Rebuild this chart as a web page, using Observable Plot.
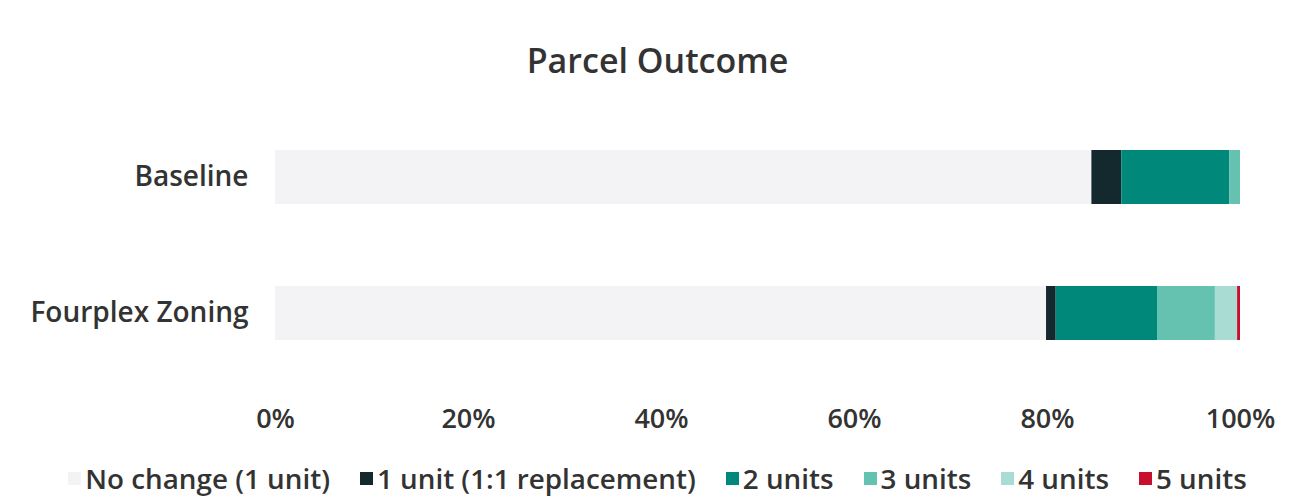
<!DOCTYPE html>
<html>
<head>
<meta charset="utf-8">
<script src="https://cdn.jsdelivr.net/npm/d3@7"></script>
<script src="https://cdn.jsdelivr.net/npm/@observablehq/plot@0.6"></script>
<style>
  html, body { margin: 0; padding: 0; background: #fff; }
  body { width: 1295px; height: 497px; overflow: hidden; font-family: "Open Sans", sans-serif; color: #333; }
  #title { height: 100px; line-height: 120px; text-align: center; font-size: 34px; font-weight: 600; color: #333; padding-left: 20px; }
  #legend { display: flex; justify-content: center; align-items: center; gap: 30px; font-size: 27.8px; font-weight: 600; color: #333; margin-top: 14px; margin-left: 20px; }
  #legend .item { display: flex; align-items: center; gap: 4px; }
  #legend .sw { width: 13px; height: 13px; display: inline-block; }
</style>
</head>
<body>
<div id="title">Parcel Outcome</div>
<div id="chart"></div>
<div id="legend"></div>
<script>
const categories = ["Baseline", "Fourplex Zoning"];
const outcomes = ["No change (1 unit)", "1 unit (1:1 replacement)", "2 units", "3 units", "4 units", "5 units"];
const baselineValues = [84.6, 3.1, 11.2, 1.1, 0, 0];
const fourplexValues = [79.9, 1.0, 10.5, 6.0, 2.3, 0.3];
const colors = ["#f3f3f5", "#14292d", "#00897b", "#66c2b0", "#a9ddd4", "#c8102e"];
const xTicks = [0, 20, 40, 60, 80, 100];

const data = [];
outcomes.forEach((o, i) => data.push({category: categories[0], outcome: o, value: baselineValues[i]}));
outcomes.forEach((o, i) => data.push({category: categories[1], outcome: o, value: fourplexValues[i]}));

const chart = Plot.plot({
  width: 1295,
  height: 345,
  marginLeft: 275,
  marginRight: 55,
  marginTop: 23,
  marginBottom: 77,
  style: {fontFamily: "'Open Sans', sans-serif", fontSize: "27px", fontWeight: 600, color: "#333", background: "transparent"},
  x: {domain: [0, 100], ticks: xTicks, tickFormat: d => d + "%", label: null, tickSize: 0, tickPadding: 40},
  y: {domain: categories, label: null, paddingInner: 0.6, paddingOuter: 0.2, tickSize: 0, tickPadding: 27},
  color: {domain: outcomes, range: colors},
  marks: [
    Plot.barX(data, {x: "value", y: "category", fill: "outcome", order: outcomes})
  ]
});
chart.querySelectorAll("[aria-label='y-axis tick label']").forEach(g => g.setAttribute("font-size", "28"));
document.getElementById("chart").appendChild(chart);

const legend = document.getElementById("legend");
outcomes.forEach((o, i) => {
  const item = document.createElement("div");
  item.className = "item";
  const sw = document.createElement("span");
  sw.className = "sw";
  sw.style.background = colors[i];
  const t = document.createElement("span");
  t.textContent = o;
  item.appendChild(sw);
  item.appendChild(t);
  legend.appendChild(item);
});
</script>
</body>
</html>
